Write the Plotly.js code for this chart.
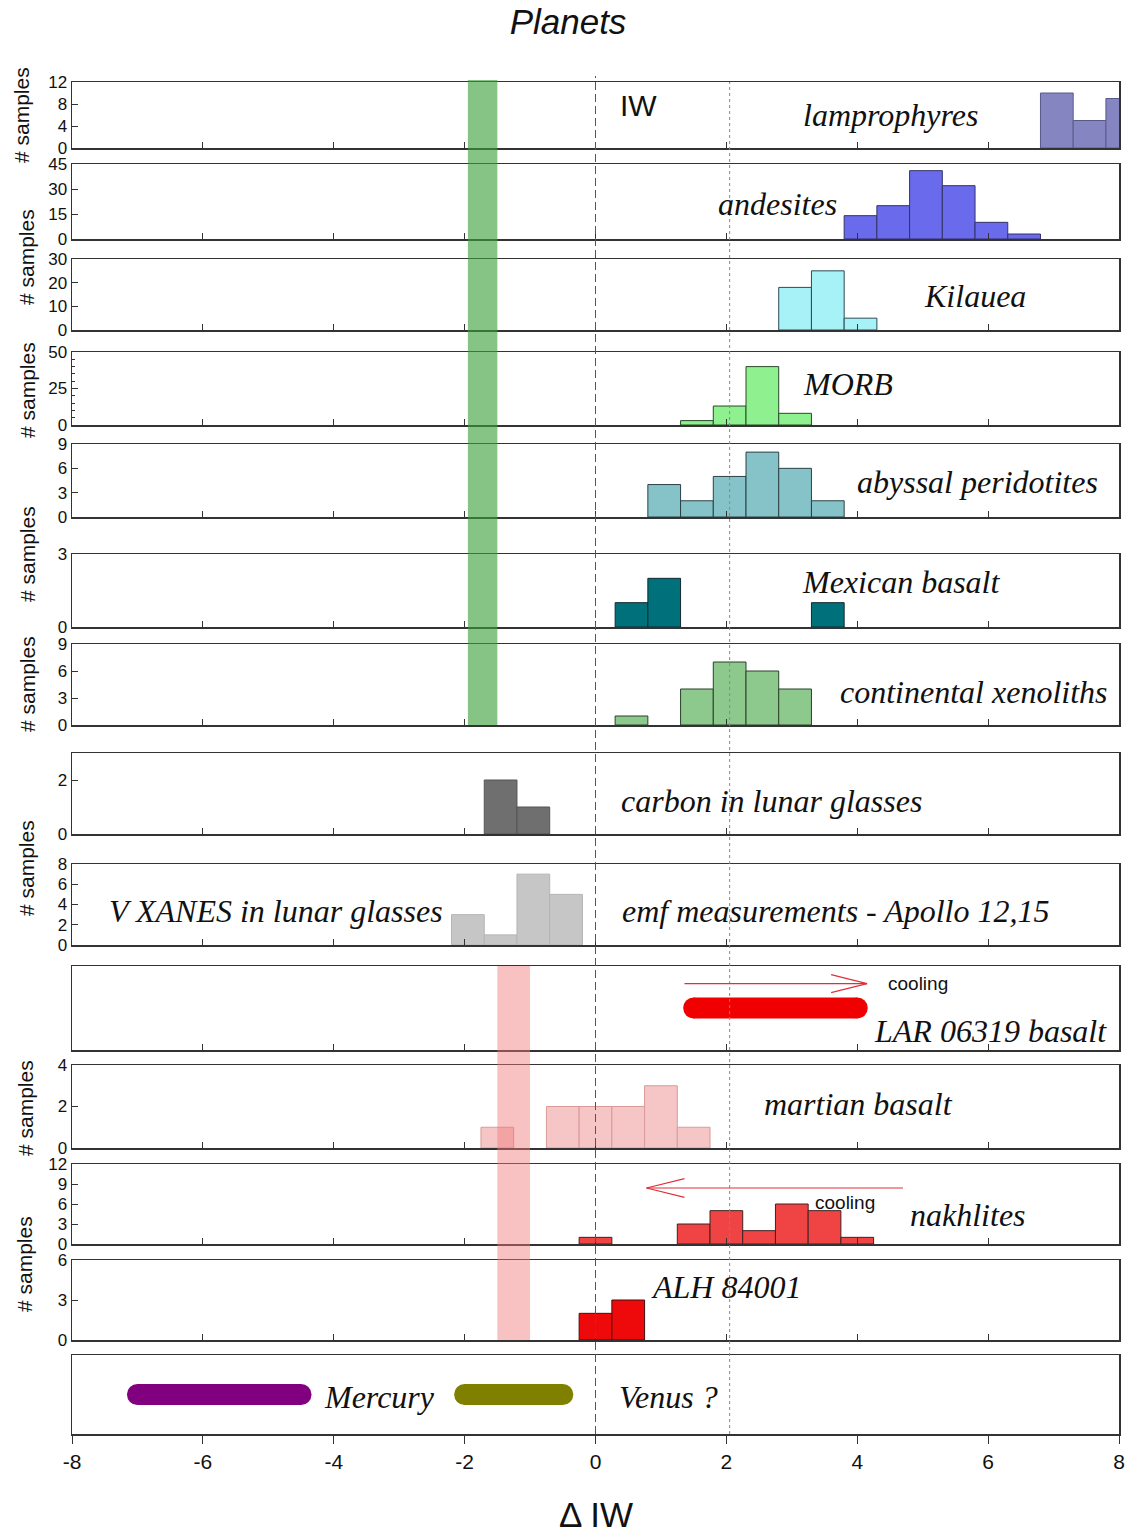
<!DOCTYPE html>
<html><head><meta charset="utf-8">
<script src="https://cdn.plot.ly/plotly-3.0.1.min.js"></script>
<style>html,body{margin:0;padding:0;background:#fff}</style>
</head><body><div id="chart" style="width:1127px;height:1538px"></div>
<script>
// ---------------- data (bin centres in ΔIW, counts) ----------------
const xTicks = [-8,-6,-4,-2,0,2,4,6,8];
const xTickText = xTicks.map(v => String(v));
const lamproX = [7.05,7.55,8.05],              lamproN = [10,5,9];
const andesX  = [4.05,4.55,5.05,5.55,6.05,6.55], andesN = [14,20,41,32,10,3];
const kilX    = [3.05,3.55,4.05],              kilN    = [18,25,5];
const morbX   = [1.55,2.05,2.55,3.05],         morbN   = [3,13,40,8];
const abyssX  = [1.05,1.55,2.05,2.55,3.05,3.55], abyssN = [4,2,5,8,6,2];
const mexX    = [0.55,1.05,3.55],              mexN    = [1,2,1];
const contX   = [0.55,1.55,2.05,2.55,3.05],    contN   = [1,4,7,6,4];
const carbX   = [-1.45,-0.95],                 carbN   = [2,1];
const vxX     = [-1.95,-1.45,-0.95,-0.45],     vxN     = [3,1,7,5];
const martX   = [-1.5,-0.5,0,0.5,1.0,1.5],     martN   = [1,2,2,2,3,1];
const nakhX   = [0,1.5,2,2.5,3,3.5,4],         nakhN   = [1,3,5,2,6,5,1];
const alhX    = [0,0.5],                       alhN    = [2,3];
const larRange = [1.5,4.0];
const mercuryRange = [-7.0,-4.5];
const venusRange = [-2.0,-0.5];
const earthBand = [-1.95,-1.5];
const marsBand = [-1.5,-1.0];
const iwLine = 0;
const dottedLine = 2.05;
const larCooling = [1.36,4.15];   // from -> to
const nakhCooling = [4.70,0.78];  // from -> to
const binWidth = 0.5;

// ---------------- layout helpers ----------------
const W = 1127, H = 1538;
const px = p => p / W;
const py = p => 1 - p / H;
const serif = 'Liberation Serif, Times New Roman, serif';
const sans = 'Liberation Sans, Arial, sans-serif';

// panel geometry (pixel top/bottom) and y scale
const panels = [
  {t:82,  b:148,  r:[0,12], tv:[0,4,8,12]},
  {t:164, b:239,  r:[0,45], tv:[0,15,30,45]},
  {t:259, b:330,  r:[0,30], tv:[0,10,20,30]},
  {t:352, b:425,  r:[0,50], tv:[0,25,50], minor:5},
  {t:444, b:517,  r:[0,9],  tv:[0,3,6,9]},
  {t:554, b:627,  r:[0,3],  tv:[0,3]},
  {t:644, b:725,  r:[0,9],  tv:[0,3,6,9]},
  {t:753, b:834,  r:[0,3],  tv:[0,2]},
  {t:864, b:945,  r:[0,8],  tv:[0,2,4,6,8]},
  {t:966, b:1050, r:[0,1],  tv:null},
  {t:1065,b:1148, r:[0,4],  tv:[0,2,4]},
  {t:1164,b:1244, r:[0,12], tv:[0,3,6,9,12]},
  {t:1260,b:1340, r:[0,6],  tv:[0,3,6]},
  {t:1355,b:1434, r:[0,1],  tv:null}
];

const layout = {
  width: W, height: H,
  margin: {l:0, r:0, t:0, b:0},
  paper_bgcolor: '#fff', plot_bgcolor: 'rgba(0,0,0,0)',
  showlegend: false,
  title: {text: '<i>Planets</i>', font: {family: sans, size: 35, color: '#111'},
          x: px(568), y: py(22), xref: 'paper', yref: 'paper', xanchor: 'center', yanchor: 'middle'},
  shapes: [], annotations: []
};

panels.forEach((p, i) => {
  const n = i + 1, sfx = n === 1 ? '' : String(n);
  const last = n === panels.length;
  layout['xaxis' + sfx] = {
    domain: [px(72), px(1119)], range: [-8, 8], anchor: 'y' + sfx,
    showline: true, mirror: true, linecolor: '#333', linewidth: 1.5,
    ticks: last ? 'outside' : 'inside', ticklen: last ? 8 : 6, tickcolor: '#333', tickwidth: 1,
    tickmode: 'array', tickvals: xTicks, ticktext: xTickText, showticklabels: last,
    tickfont: {family: sans, size: 21, color: '#111'},
    showgrid: false, zeroline: false, fixedrange: true
  };
  const ya = {
    domain: [py(p.b), py(p.t)], range: p.r, anchor: 'x' + sfx,
    showline: true, mirror: true, linecolor: '#333', linewidth: 1.5,
    showgrid: false, zeroline: false, fixedrange: true,
    tickfont: {family: sans, size: 17, color: '#111'}
  };
  if (p.tv) {
    Object.assign(ya, {tickmode: 'array', tickvals: p.tv, ticks: 'inside', ticklen: 6, tickcolor: '#333'});
    if (p.minor) ya.minor = {dtick: p.minor, ticks: 'inside', ticklen: 3, tickcolor: '#333'};
  } else {
    Object.assign(ya, {showticklabels: false, ticks: ''});
  }
  layout['yaxis' + sfx] = ya;
});

// ---------------- traces ----------------
const ax = n => n === 1 ? ['x','y'] : ['x'+n, 'y'+n];
function bars(n, x, y, fill, line) {
  const [xa, yaName] = ax(n);
  return {type: 'bar', x: x, y: y, width: binWidth, xaxis: xa, yaxis: yaName,
          marker: {color: fill, line: {color: line, width: 1}}, hoverinfo: 'skip'};
}
function pill(n, range, color) {
  const [xa, yaName] = ax(n);
  return {type: 'scatter', mode: 'lines+markers', x: range, y: [0.5, 0.5], xaxis: xa, yaxis: yaName,
          line: {color: color, width: 21},
          marker: {color: color, size: 21, line: {width: 0}}, hoverinfo: 'skip'};
}
const data = [
  bars(1, lamproX, lamproN, '#8585c2', '#5a5a8a'),
  bars(2, andesX, andesN, '#6a6aec', '#333366'),
  bars(3, kilX, kilN, '#a6f2f7', '#2a4a55'),
  bars(4, morbX, morbN, '#8ef08e', '#2a4a2a'),
  bars(5, abyssX, abyssN, '#86c3c8', '#2a4045'),
  bars(6, mexX, mexN, '#00707a', '#102a30'),
  bars(7, contX, contN, '#8dc98d', '#2a402a'),
  bars(8, carbX, carbN, '#6f6f6f', '#555555'),
  bars(9, vxX, vxN, '#c6c6c6', '#b4b4b4'),
  bars(11, martX, martN, '#f6c6c6', '#d89a9a'),
  bars(12, nakhX, nakhN, '#f04444', '#402020'),
  bars(13, alhX, alhN, '#ee0a0a', '#401010'),
  pill(10, larRange, '#f00000'),
  pill(14, mercuryRange, '#800080'),
  pill(14, venusRange, '#808000')
];

// ---------------- shapes ----------------
layout.shapes.push(
  {type:'rect', xref:'x', yref:'paper', x0:earthBand[0], x1:earthBand[1], y0:py(725), y1:py(80),
   fillcolor:'rgba(60,160,60,0.62)', line:{width:0}, layer:'above'},
  {type:'rect', xref:'x', yref:'paper', x0:marsBand[0], x1:marsBand[1], y0:py(1340), y1:py(966),
   fillcolor:'rgba(240,120,120,0.45)', line:{width:0}, layer:'above'},
  {type:'line', xref:'x', yref:'paper', x0:iwLine, x1:iwLine, y0:py(1434), y1:py(76),
   line:{color:'#555', width:1, dash:'8px,4px'}, layer:'above'},
  {type:'line', xref:'x', yref:'paper', x0:dottedLine, x1:dottedLine, y0:py(1434), y1:py(82),
   line:{color:'#888', width:1, dash:'dot'}, layer:'above'}
);
function arrow(n, from, to, yMid, half, headLen) {
  const xa = n === 1 ? 'x' : 'x' + n, yr = (n === 1 ? 'y' : 'y' + n) + ' domain';
  const dir = Math.sign(to - from), back = to - dir * headLen;
  const col = '#e0303a';
  layout.shapes.push(
    {type:'line', xref:xa, yref:yr, x0:from, x1:to, y0:yMid, y1:yMid, line:{color:col, width:1.2}},
    {type:'line', xref:xa, yref:yr, x0:back, x1:to, y0:yMid + half, y1:yMid, line:{color:col, width:1.2}},
    {type:'line', xref:xa, yref:yr, x0:back, x1:to, y0:yMid - half, y1:yMid, line:{color:col, width:1.2}}
  );
}
arrow(10, larCooling[0], larCooling[1], 0.79, 0.107, 0.55);
arrow(12, nakhCooling[0], nakhCooling[1], 0.70, 0.117, 0.58);

// ---------------- annotations ----------------
function label(text, cx, cy, size, family, italic, angle) {
  layout.annotations.push({
    text: italic ? '<i>' + text + '</i>' : text,
    x: px(cx), y: py(cy), xref: 'paper', yref: 'paper',
    xanchor: 'center', yanchor: 'middle', showarrow: false,
    textangle: angle || 0,
    font: {family: family, size: size, color: '#111'}
  });
}
label('IW', 638, 105, 30, sans, false);
label('lamprophyres', 890, 115, 32, serif, true);
label('andesites', 777, 204, 32, serif, true);
label('Kilauea', 975, 296, 32, serif, true);
label('MORB', 848, 384, 32, serif, true);
label('abyssal peridotites', 977, 482, 32, serif, true);
label('Mexican basalt', 901, 582, 32, serif, true);
label('continental xenoliths', 974, 692, 32, serif, true);
label('carbon in lunar glasses', 771, 801, 32, serif, true);
label('V XANES in lunar glasses', 276, 911, 32, serif, true);
label('emf measurements - Apollo 12,15', 836, 911, 32, serif, true);
label('LAR 06319 basalt', 990, 1031, 32, serif, true);
label('martian basalt', 858, 1104, 32, serif, true);
label('nakhlites', 968, 1215, 32, serif, true);
label('ALH 84001', 726, 1287, 32, serif, true);
label('Mercury', 379, 1397, 32, serif, true);
label('Venus ?', 668, 1397, 32, serif, true);
label('cooling', 918, 983, 19, sans, false);
label('cooling', 845, 1202, 19, sans, false);
label('Δ IW', 596, 1514, 35, sans, false);
[[21,115],[26,257],[27,390],[27,554],[27,684],[27,868],[25,1108],[24,1264]].forEach(([x,y]) =>
  label('# samples', x, y, 21, sans, false, -90));

Plotly.newPlot('chart', data, layout, {staticPlot: true, displayModeBar: false});
</script></body></html>
